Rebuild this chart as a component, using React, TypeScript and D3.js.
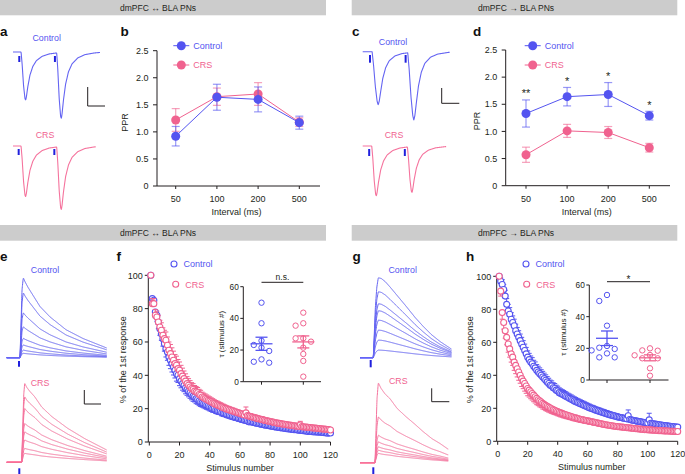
import React from "react";
import * as d3 from "d3";

const FONT = "'Liberation Sans', Arial, Helvetica, sans-serif";
const INK = "#231f20";
const C_CTRL = "#5454f0";
const C_CRS = "#f0628f";
const C_CTRL_TR = "#6464f2";
const C_CRS_TR = "#f5739d";
const C_STIM = "#2020dd";
const C_BAR = "#cccccc";

const headers = ["dmPFC \u2194 BLA PNs", "dmPFC \u2192 BLA PNs"];
const groupNames = ["Control", "CRS"];

// ---- PPR (b, d)
const intervals = ["50", "100", "200", "500"];
const pprTicks = [0, 0.5, 1, 1.5, 2, 2.5];
const pprCtrlB = [0.92, 1.64, 1.6, 1.17];
const pprCtrlBSem = [0.18, 0.24, 0.23, 0.12];
const pprCrsB = [1.22, 1.65, 1.7, 1.18];
const pprCrsBSem = [0.21, 0.16, 0.21, 0.08];
const pprCtrlD = [1.33, 1.64, 1.68, 1.29];
const pprCtrlDSem = [0.25, 0.17, 0.22, 0.08];
const pprCrsD = [0.57, 1.01, 0.98, 0.7];
const pprCrsDSem = [0.14, 0.12, 0.11, 0.08];
const starsD = ["**", "*", "*", "*"];

// ---- Train depression (f, h): % of the 1st response, stimulus 1..120
const decayXTicks = [0, 20, 40, 60, 80, 100, 120];
const decayYTicks = [0, 20, 40, 60, 80, 100];
const fCtrl = [
  100, 86, 85, 78, 76, 72, 68, 65, 62, 59,
  56, 54, 51, 49, 47, 45, 43, 41, 40, 38,
  36.5, 35, 34, 32.5, 31.5, 30.5, 29.5, 28.5, 27.5, 27,
  26, 25.5, 24.6, 24, 23.5, 23, 22.5, 22, 21.5, 21,
  20.5, 20, 19.8, 19.2, 18.8, 18.5, 18.3, 17.6, 17.2, 17,
  16.6, 16.2, 16, 15.6, 15.3, 15, 14.7, 14.6, 14.1, 13.9,
  13.6, 13.4, 13.1, 12.9, 12.6, 12.1, 12.2, 12, 11.7, 11.5,
  11.3, 11.1, 10.9, 10.7, 10.5, 10.3, 10.1, 10, 10.1, 9.6,
  9.5, 9.3, 9.1, 9, 8.8, 8.7, 8.5, 8.6, 8.3, 8.1,
  8, 7.9, 7.8, 7.6, 7.5, 7.4, 7.5, 7.2, 7.1, 7,
  6.9, 6.8, 6.7, 6.6, 6.3, 6.4, 6.3, 6.2, 6.1, 6.1,
  6, 5.9, 6, 5.8, 5.7, 5.6, 5.6, 5.3, 5.5, 5.4,
];
const fCtrlSem = [
  0, 3, 3, 3.5, 3.5, 4, 4, 4, 4.5, 4.5,
  5, 5, 5, 5, 5, 4.8, 4.6, 4.5, 4.3, 4.2,
  4, 3.9, 3.8, 3.6, 3.5, 3.4, 3.3, 3.2, 3.1, 3,
  3, 2.9, 2.8, 2.7, 2.6, 2.5, 2.5, 2.4, 2.3, 2.3,
  2.2, 2.2, 2.1, 2.1, 2, 2, 1.9, 1.9, 1.8, 1.8,
  1.8, 1.7, 1.7, 1.7, 1.6, 1.6, 1.6, 1.5, 1.5, 1.5,
  1.5, 1.4, 1.4, 1.4, 1.4, 1.3, 1.3, 1.3, 1.3, 1.3,
  1.2, 1.2, 1.2, 1.2, 1.2, 1.1, 1.1, 1.1, 1.1, 1.1,
  1, 1, 1, 1, 1, 1, 1, 1, 1, 1,
  0.9, 0.9, 0.9, 0.9, 0.9, 0.9, 0.9, 0.9, 0.9, 0.9,
  0.9, 0.9, 0.9, 0.9, 0.9, 0.9, 0.9, 0.9, 0.9, 0.9,
  0.8, 0.8, 0.8, 0.8, 0.8, 0.8, 0.8, 0.8, 0.8, 0.8,
];
const fCrs = [
  100, 83, 83, 76, 75, 72, 69, 67, 64, 62,
  61, 58, 55, 53, 51, 49, 47, 46, 44, 43,
  41, 39.5, 38, 36.5, 35, 34, 33, 32, 31.5, 30.5,
  30, 29.5, 28.5, 28, 27, 26.5, 26, 25.5, 25, 24.5,
  24, 23.5, 23, 22.5, 22.2, 21.8, 21.4, 21, 20.6, 20.2,
  19.8, 19.5, 19.2, 18.9, 18.6, 18.3, 18, 17.7, 17.4, 17.1,
  16.8, 16.5, 16.2, 17.5, 15.8, 15.5, 15.3, 15, 14.8, 14.5,
  14.3, 14, 13.8, 13.6, 13.4, 13.1, 12.9, 12.7, 12.5, 12.3,
  12.1, 11.9, 11.7, 11.5, 11.3, 11.2, 11, 10.8, 10.7, 10.5,
  10.4, 10.2, 10.1, 10, 9.8, 9.7, 9.6, 9.5, 9.4, 10.2,
  9.2, 9.1, 9, 8.9, 8.8, 8.7, 8.6, 8.5, 8.4, 8.3,
  8.2, 8.1, 8, 7.9, 7.8, 7.7, 7.6, 7.5, 7.4, 7.2,
];
const fCrsSem = [
  0, 3, 3, 3.5, 3.5, 4, 4, 4.5, 4.5, 5,
  5, 5, 5, 5.5, 5.5, 5.5, 5.5, 5.5, 5.5, 5,
  5, 4.8, 4.6, 4.4, 4.2, 4, 3.8, 3.6, 3.5, 3.4,
  3.3, 3.2, 3.1, 3, 2.9, 2.8, 2.8, 2.7, 2.6, 2.6,
  2.5, 2.5, 2.4, 2.4, 2.3, 2.3, 2.2, 2.2, 2.1, 2.1,
  2, 2, 2, 1.9, 1.9, 1.9, 1.8, 1.8, 1.8, 1.8,
  1.7, 1.7, 1.7, 3.5, 1.7, 1.6, 1.6, 1.6, 1.6, 1.6,
  1.5, 1.5, 1.5, 1.5, 1.5, 1.4, 1.4, 1.4, 1.4, 1.4,
  1.3, 1.3, 1.3, 1.3, 1.3, 1.3, 1.2, 1.2, 1.2, 1.2,
  1.2, 1.2, 1.1, 1.1, 1.1, 1.1, 1.1, 1.1, 1.1, 2.2,
  1, 1, 1, 1, 1, 1, 1, 1, 1, 1,
  0.9, 0.9, 0.9, 0.9, 0.9, 0.9, 0.9, 0.9, 0.9, 0.9,
];
const hCtrl = [
  100, 97, 95, 92, 88, 83, 79, 77, 74, 72,
  70, 67, 65, 63, 61, 59, 57, 55, 53, 51,
  49.5, 48, 47, 45.5, 44.5, 43, 42, 41, 40, 39,
  38, 37, 36, 35, 34, 33.5, 32.5, 32, 31, 30.5,
  29.5, 29, 28.5, 28, 27.5, 27, 26.5, 26, 25.5, 25,
  24.5, 24, 23.6, 23.2, 22.8, 22.4, 22, 21.6, 21.2, 20.8,
  20.4, 20, 19.7, 19.4, 19, 18.7, 18.4, 18.1, 17.8, 17.5,
  17.2, 16.9, 16.6, 16.3, 16, 15.8, 15.5, 15.3, 15, 14.8,
  14.6, 14.4, 14.2, 14, 13.8, 13.6, 15.5, 13.2, 13, 12.8,
  12.6, 12.4, 12.2, 12, 11.9, 11.7, 11.5, 11.4, 11.2, 11.1,
  13, 10.9, 10.7, 10.6, 10.4, 10.3, 10.1, 10, 9.9, 9.7,
  9.6, 9.5, 9.4, 9.2, 9.1, 9, 8.9, 8.8, 8.7, 8.6,
];
const hCtrlSem = [
  0, 2, 3, 3, 3.5, 3.5, 4, 4, 4, 4,
  4, 4, 4, 4, 4, 4, 4, 3.9, 3.9, 3.8,
  3.8, 3.7, 3.7, 3.6, 3.6, 3.5, 3.5, 3.5, 3.4, 3.4,
  3.3, 3.3, 3.2, 3.2, 3.1, 3.1, 3, 3, 3, 2.9,
  2.9, 2.8, 2.8, 2.8, 2.7, 2.7, 2.6, 2.6, 2.6, 2.5,
  2.5, 2.5, 2.4, 2.4, 2.4, 2.3, 2.3, 2.3, 2.2, 2.2,
  2.2, 2.1, 2.1, 2.1, 2, 2, 2, 2, 1.9, 1.9,
  1.9, 1.8, 1.8, 1.8, 1.8, 1.7, 1.7, 1.7, 1.7, 1.6,
  1.6, 1.6, 1.6, 1.5, 1.5, 1.5, 3.5, 1.5, 1.5, 1.4,
  1.4, 1.4, 1.4, 1.4, 1.3, 1.3, 1.3, 1.3, 1.3, 1.3,
  4, 1.3, 1.2, 1.2, 1.2, 1.2, 1.2, 1.2, 1.2, 1.1,
  1.1, 1.1, 1.1, 1.1, 1.1, 1.1, 1.1, 1.1, 1.1, 1.1,
];
const hCrs = [
  100, 91, 78, 72, 67, 63, 59, 56, 53, 51,
  48, 46, 44, 42, 40, 38, 36.5, 35, 33.5, 32,
  31, 30, 29, 28, 27, 26, 25.2, 24.5, 23.8, 23,
  22.4, 21.8, 21.2, 20.7, 20.2, 19.7, 19.2, 18.8, 18.4, 18,
  17.6, 17.2, 16.9, 16.5, 16.2, 15.9, 15.6, 15.3, 15, 14.7,
  14.4, 14.2, 13.9, 13.7, 13.4, 13.2, 13, 12.8, 12.6, 12.4,
  12.2, 12, 11.8, 11.6, 11.4, 11.2, 11, 10.8, 10.6, 10.4,
  10.2, 10, 9.9, 9.7, 9.6, 9.4, 9.3, 9.1, 9, 8.9,
  8.8, 8.7, 8.6, 8.5, 8.4, 8.3, 8.2, 8.1, 8, 7.9,
  7.8, 7.7, 7.6, 7.5, 7.4, 7.3, 7.2, 7.1, 7.1, 7,
  6.9, 6.9, 6.8, 6.7, 6.7, 6.6, 6.5, 6.5, 6.4, 6.4,
  6.3, 6.3, 6.2, 6.2, 6.1, 6.1, 6, 6, 5.9, 5.9,
];
const hCrsSem = [
  0, 3, 4, 4, 4.5, 4.5, 5, 5, 5, 5,
  5, 5, 5, 5, 4.8, 4.8, 4.6, 4.6, 4.4, 4.4,
  4.2, 4.2, 4, 4, 3.8, 3.8, 3.6, 3.6, 3.4, 3.4,
  3.2, 3.2, 3, 3, 2.9, 2.8, 2.7, 2.6, 2.5, 2.5,
  2.4, 2.4, 2.3, 2.3, 2.2, 2.2, 2.1, 2.1, 2, 2,
  2, 1.9, 1.9, 1.9, 1.8, 1.8, 1.8, 1.7, 1.7, 1.7,
  1.6, 1.6, 1.6, 1.6, 1.5, 1.5, 1.5, 1.5, 1.4, 1.4,
  1.4, 1.4, 1.3, 1.3, 1.3, 1.3, 1.2, 1.2, 1.2, 1.2,
  1.2, 1.1, 1.1, 1.1, 1.1, 1.1, 1, 1, 1, 1,
  1, 1, 1, 1, 0.9, 0.9, 0.9, 0.9, 0.9, 0.9,
  0.9, 0.9, 0.9, 0.9, 0.8, 0.8, 0.8, 0.8, 0.8, 0.8,
  0.8, 0.8, 0.8, 0.8, 0.8, 0.8, 0.8, 0.8, 0.8, 0.8,
];

// ---- tau insets (stimulus #)
const tauTicks = [0, 20, 40, 60];
const tauCtrlF = [49.9, 36.9, 25.9, 23.2, 21.5, 19.4, 14.1, 12.6, 12.0];
const tauCrsF = [43.6, 36.9, 35.4, 27.4, 27.4, 25.3, 21.5, 17.5, 13.1, 3.2];
const tauCtrlH = [53.7, 49.9, 34.3, 21.5, 20.4, 19.6, 18.7, 16.8, 14.3, 14.3];
const tauCrsH = [20.0, 18.7, 18.5, 15.8, 15.6, 13.7, 13.7, 7.4, 2.7];

// ---- example traces: normalized EPSC shapes [ms after onset/stim, fraction of peak]
const ppTplFast = [[0, 0], [2.5, 0], [4, 0.25], [6, 0.7], [8, 0.97], [9, 1], [10, 0.93], [12, 0.72], [15, 0.48], [19, 0.3], [24, 0.18], [32, 0.09], [42, 0.04], [55, 0.015], [70, 0]];
const ppTplSlow = [[0, 0], [3, 0], [5, 0.25], [7.5, 0.65], [10, 0.93], [11.5, 1], [13, 0.93], [15, 0.75], [18, 0.5], [22, 0.3], [27, 0.17], [35, 0.08], [45, 0.035], [60, 0.01], [75, 0]];
const ppAmpACtrl = [253, 347];
const ppAmpACrs = [267, 332];
const ppAmpCCtrl = [280, 358];
const ppAmpCCrs = [263, 242];
const ppStimA = [8.8, 58.8];
const ppStimC = [10.2, 60.2];

const trTplECtrl = [[0, 0], [2, 0.4], [4, 0.85], [6.6, 1], [10, 0.95], [16, 0.88], [26, 0.78], [40, 0.64], [60, 0.51], [92, 0.35], [126, 0.24], [174, 0.12]];
const trTplECrs = [[0, 0], [2, 0.4], [4, 0.85], [6, 1], [10, 0.95], [16, 0.9], [26, 0.83], [40, 0.7], [60, 0.58], [92, 0.43], [126, 0.3], [170, 0.156]];
const trTplGCtrl = [[0, 0], [2, 0.3], [4, 0.62], [7, 0.88], [10, 1], [16, 0.99], [24, 0.95], [34, 0.88], [50, 0.76], [66, 0.64], [84, 0.5], [100, 0.39], [116, 0.29], [134, 0.2], [157, 0.105]];
const trTplGCrs = [[0, 0], [2, 0.4], [4, 0.8], [6.6, 1], [12, 0.93], [20, 0.86], [30, 0.8], [44, 0.68], [62, 0.575], [80, 0.48], [96, 0.39], [114, 0.3], [130, 0.24], [146, 0.17]];
const trAmpECtrl = [400, 325, 225, 155, 97, 64, 38, 22];
const trAmpECrs = [395, 328, 270, 195, 153, 112, 70, 45];
const trAmpGCtrl = [400, 330, 270, 235, 188, 138, 88, 38];
const trAmpGCrs = [400, 230, 138, 105, 80, 63, 47];

function templateFn(tpl: number[][]) {
  const s = d3.scaleLinear().domain(tpl.map((d) => d[0])).range(tpl.map((d) => d[1])).clamp(true);
  return (t: number) => (t <= 0 ? 0 : s(t));
}

function PairedTrace({ tpl, stims, amps, tEnd, xs, ys, color }: any) {
  const f = templateFn(tpl);
  const pts = d3.range(0, tEnd + 0.001, 0.25).map((t) => [t, d3.sum(stims, (s: number, k: number) => amps[k] * f(t - s))]);
  const line = d3.line<number[]>().x((d) => xs(d[0])).y((d) => ys(d[1])).curve(d3.curveBasis);
  return <path d={line(pts) || ""} fill="none" stroke={color} strokeWidth={1.1} />;
}

function TrainTraces({ tpl, onset, amps, tEnd, xs, ys, color }: any) {
  const f = templateFn(tpl);
  const line = d3.line<number[]>().x((d) => xs(d[0])).y((d) => ys(d[1])).curve(d3.curveBasis);
  return (
    <g>
      {amps.map((a: number, i: number) => {
        const pts = d3.range(0, tEnd + 0.001, 0.5).map((t) => [t, a * f(t - onset)]);
        return <path key={i} d={line(pts) || ""} fill="none" stroke={color} strokeWidth={1} />;
      })}
    </g>
  );
}

function StimMark({ x, y1, y2 }: any) {
  return <line x1={x} x2={x} y1={y1} y2={y2} stroke={C_STIM} strokeWidth={2} />;
}

function ScaleBar({ x, y, w, h }: any) {
  return <path d={`M${x},${y - h}V${y}H${x + w}`} fill="none" stroke={INK} strokeWidth={1} />;
}

function PPRPanel({ axX, yTop, yBot, xEnd, catLo, catHi, ctrl, ctrlSem, crs, crsSem, stars, legX0, yLabelX, yLabelY }: any) {
  const y = d3.scaleLinear().domain([0, 2.5]).range([yBot, yTop]);
  const x = d3.scalePoint<string>().domain(intervals).range([catLo, catHi]);
  const line = d3.line<number>().x((d, i) => x(intervals[i]) as number).y((d) => y(d));
  const series = [
    { v: crs, s: crsSem, c: C_CRS },
    { v: ctrl, s: ctrlSem, c: C_CTRL },
  ];
  const legend = [
    { name: groupNames[0], c: C_CTRL, yy: 45.7 },
    { name: groupNames[1], c: C_CRS, yy: 65 },
  ];
  return (
    <g>
      <line x1={axX} x2={axX} y1={yTop} y2={yBot} stroke={INK} />
      <line x1={axX} x2={xEnd} y1={yBot} y2={yBot} stroke={INK} />
      {pprTicks.map((t) => (
        <g key={t}>
          <line x1={axX - 4} x2={axX} y1={y(t)} y2={y(t)} stroke={INK} />
          <text x={axX - 8.5} y={y(t) + 3.2} textAnchor="end" fontSize={9} fill={INK}>
            {t === 0 ? "0" : d3.format(".1f")(t)}
          </text>
        </g>
      ))}
      {intervals.map((c) => (
        <g key={c}>
          <line x1={x(c)} x2={x(c)} y1={yBot} y2={yBot + 3} stroke={INK} />
          <text x={x(c)} y={yBot + 16} textAnchor="middle" fontSize={9} fill={INK}>{c}</text>
        </g>
      ))}
      <text x={(catLo + catHi) / 2 - 1} y={yBot + 29} textAnchor="middle" fontSize={9} fill={INK}>Interval (ms)</text>
      <text transform={`translate(${yLabelX},${yLabelY}) rotate(-90)`} textAnchor="middle" fontSize={9} fill={INK}>PPR</text>
      {series.map((sr, si) => (
        <g key={si}>
          <path d={line(sr.v) || ""} fill="none" stroke={sr.c} strokeWidth={1} />
          {sr.v.map((v: number, i: number) => {
            const cx = x(intervals[i]) as number;
            const hi = y(v + sr.s[i]);
            const lo = y(v - sr.s[i]);
            return (
              <g key={i} stroke={sr.c} strokeOpacity={0.6} strokeWidth={1.2}>
                <line x1={cx} x2={cx} y1={hi} y2={lo} />
                <line x1={cx - 4} x2={cx + 4} y1={hi} y2={hi} />
                <line x1={cx - 4} x2={cx + 4} y1={lo} y2={lo} />
              </g>
            );
          })}
          {sr.v.map((v: number, i: number) => (
            <circle key={"c" + i} cx={x(intervals[i])} cy={y(v)} r={4.5} fill={sr.c} />
          ))}
        </g>
      ))}
      {stars &&
        stars.map((s: string, i: number) => (
          <text key={i} x={x(intervals[i])} y={y(ctrl[i] + ctrlSem[i]) - 2.5} textAnchor="middle" fontSize={11} fill={INK}>{s}</text>
        ))}
      {legend.map((l) => (
        <g key={l.name}>
          <line x1={legX0} x2={legX0 + 16} y1={l.yy} y2={l.yy} stroke={l.c} strokeWidth={1} />
          <circle cx={legX0 + 8} cy={l.yy} r={4.5} fill={l.c} />
          <text x={legX0 + 20} y={l.yy + 3.2} fontSize={9} fill={l.c}>{l.name}</text>
        </g>
      ))}
    </g>
  );
}

function DecayPanel({ axX, x0, x120, y0, y100, ctrl, ctrlSem, ctrlDir, crs, crsSem, crsDir, legX, yLabelX, titleX }: any) {
  const x = d3.scaleLinear().domain([0, 120]).range([x0, x120]);
  const y = d3.scaleLinear().domain([0, 100]).range([y0, y100]);
  const series = [
    { v: ctrl, s: ctrlSem, dir: ctrlDir, c: C_CTRL },
    { v: crs, s: crsSem, dir: crsDir, c: C_CRS },
  ];
  const legY = [264, 284.3];
  return (
    <g>
      <line x1={axX} x2={axX} y1={y(0)} y2={y(100)} stroke={INK} />
      <line x1={axX} x2={x(120)} y1={y0} y2={y0} stroke={INK} />
      {decayYTicks.map((t) => (
        <g key={t}>
          <line x1={axX - 3.5} x2={axX} y1={y(t)} y2={y(t)} stroke={INK} />
          <text x={axX - 5.5} y={y(t) + 3.2} textAnchor="end" fontSize={9} fill={INK}>{t}</text>
        </g>
      ))}
      {decayXTicks.map((t) => (
        <g key={t}>
          <line x1={x(t)} x2={x(t)} y1={y0} y2={y0 + 3.5} stroke={INK} />
          <text x={x(t)} y={y0 + 15.5} textAnchor="middle" fontSize={9} fill={INK}>{t}</text>
        </g>
      ))}
      <text x={titleX} y={y0 + 29} textAnchor="middle" fontSize={9} fill={INK}>Stimulus number</text>
      <text transform={`translate(${yLabelX},${(y0 + y100) / 2 + 1}) rotate(-90)`} textAnchor="middle" fontSize={9} fill={INK}>% of the 1st response</text>
      {series.map((sr, si) => (
        <g key={si}>
          {sr.v.map((v: number, i: number) => {
            if (!sr.s[i]) return null;
            const cx = x(i + 1);
            const ye = y(v + sr.dir * sr.s[i]);
            return (
              <g key={i} stroke={sr.c} strokeWidth={1}>
                <line x1={cx} x2={cx} y1={y(v)} y2={ye} />
                <line x1={cx - 2.5} x2={cx + 2.5} y1={ye} y2={ye} />
              </g>
            );
          })}
          {sr.v.map((v: number, i: number) => (
            <circle key={"c" + i} cx={x(i + 1)} cy={y(v)} r={3} fill="#fff" stroke={sr.c} strokeWidth={1.1} />
          ))}
        </g>
      ))}
      {[0, 1].map((g) => (
        <g key={g}>
          <circle cx={legX[g]} cy={legY[g]} r={3} fill="#fff" stroke={g ? C_CRS : C_CTRL} strokeWidth={1.1} />
          <text x={legX[g] + 9.5} y={legY[g] + 3.2} fontSize={9} fill={g ? C_CRS : C_CTRL}>{groupNames[g]}</text>
        </g>
      ))}
    </g>
  );
}

function swarm(vals: number[], cx: number, y: any, r: number, step: number) {
  const order = vals.map((v, i) => i).sort((a, b) => vals[b] - vals[a]);
  const placed: number[][] = [];
  const out: number[][] = new Array(vals.length);
  for (const i of order) {
    const py = y(vals[i]);
    for (const k of [0, -1, 1, -2, 2, -3, 3]) {
      const px = cx + k * step;
      if (placed.every((p) => (p[0] - px) ** 2 + (p[1] - py) ** 2 >= (2 * r + 0.8) ** 2)) {
        placed.push([px, py]);
        out[i] = [px, py];
        break;
      }
    }
  }
  return out;
}

function Inset({ axX, y0, y60, xEnd, gx, groups, sig, sigSize, sigDy, brY, yLabelX }: any) {
  const y = d3.scaleLinear().domain([0, 60]).range([y0, y60]);
  const colors = [C_CTRL, C_CRS];
  return (
    <g>
      <line x1={axX} x2={axX} y1={y0} y2={y60} stroke={INK} />
      <line x1={axX} x2={xEnd} y1={y0} y2={y0} stroke={INK} />
      {tauTicks.map((t) => (
        <g key={t}>
          <line x1={axX - 3} x2={axX} y1={y(t)} y2={y(t)} stroke={INK} />
          <text x={axX - 4.5} y={y(t) + 3} textAnchor="end" fontSize={8.3} fill={INK}>{t}</text>
        </g>
      ))}
      {gx.map((g: number) => (
        <line key={g} x1={g} x2={g} y1={y0} y2={y0 + 3} stroke={INK} />
      ))}
      <text transform={`translate(${yLabelX},${(y0 + y60) / 2}) rotate(-90)`} textAnchor="middle" fontSize={8} fill={INK}>{"\u03c4 (stimulus #)"}</text>
      <line x1={gx[0]} x2={gx[1]} y1={brY} y2={brY} stroke={INK} />
      <text x={(gx[0] + gx[1]) / 2} y={brY + sigDy} textAnchor="middle" fontSize={sigSize} fill={INK}>{sig}</text>
      {groups.map((vals: number[], gi: number) => {
        const cx = gx[gi];
        const m = d3.mean(vals) as number;
        const sem = (d3.deviation(vals) as number) / Math.sqrt(vals.length);
        const pts = swarm(vals, cx, y, 2.7, 7.7);
        const c = colors[gi];
        return (
          <g key={gi}>
            {pts.map((p, i) => (
              <circle key={i} cx={p[0]} cy={p[1]} r={2.7} fill="none" stroke={c} strokeWidth={1} />
            ))}
            <g stroke={c} strokeWidth={1.3}>
              <line x1={cx - 11} x2={cx + 11} y1={y(m)} y2={y(m)} />
              <line x1={cx} x2={cx} y1={y(m - sem)} y2={y(m + sem)} />
              <line x1={cx - 6} x2={cx + 6} y1={y(m - sem)} y2={y(m - sem)} />
              <line x1={cx - 6} x2={cx + 6} y1={y(m + sem)} y2={y(m + sem)} />
            </g>
          </g>
        );
      })}
    </g>
  );
}

function Header({ x0, x1, y0, y1, text, tx }: any) {
  return (
    <g>
      <rect x={x0} y={y0} width={x1 - x0} height={y1 - y0} fill={C_BAR} />
      <text x={tx} y={y0 + 11.3} textAnchor="middle" fontSize={8.5} fill={INK}>{text}</text>
    </g>
  );
}

export default function App() {
  const xsA = d3.scaleLinear().domain([0, 122]).range([13, 100]);
  const xsC = d3.scaleLinear().domain([0, 122]).range([362.7, 449.7]);
  const ysA1 = d3.scaleLinear().domain([0, 100]).range([52, 71]);
  const ysA2 = d3.scaleLinear().domain([0, 100]).range([146, 165]);
  const ysC1 = d3.scaleLinear().domain([0, 100]).range([51.7, 70.7]);
  const ysC2 = d3.scaleLinear().domain([0, 100]).range([146, 165]);
  const xsE = d3.scaleLinear().domain([0, 200]).range([6.7, 106.7]);
  const xsG = d3.scaleLinear().domain([0, 200]).range([360, 460]);
  const ysE1 = d3.scaleLinear().domain([0, 100]).range([357.7, 337.7]);
  const ysE2 = d3.scaleLinear().domain([0, 100]).range([462.3, 442.3]);
  const ysG1 = d3.scaleLinear().domain([0, 100]).range([357.7, 337.7]);
  const ysG2 = d3.scaleLinear().domain([0, 100]).range([462.7, 442.7]);

  const letters = [
    ["a", 0, 35.7], ["b", 120.5, 35.7], ["c", 352, 35.7], ["d", 473, 35.7],
    ["e", 0, 260.7], ["f", 116.5, 260.7], ["g", 352.5, 260.7], ["h", 466, 260.7],
  ];

  return (
    <svg width={685} height={474} style={{ position: "absolute", left: 0, top: 0, background: "#fff" }} fontFamily={FONT}>
      <rect x={0} y={0} width={685} height={474} fill="#fff" />
      <Header x0={0} x1={326} y0={0} y1={15.3} text={headers[0]} tx={158} />
      <Header x0={351.7} x1={677.3} y0={0} y1={15.3} text={headers[1]} tx={516} />
      <Header x0={0} x1={326} y0={225} y1={240.7} text={headers[0]} tx={158} />
      <Header x0={351.7} x1={677.3} y0={225} y1={240.7} text={headers[1]} tx={516} />

      {letters.map(([t, x, y]: any) => (
        <text key={t} x={x} y={y} fontSize={13.5} fontWeight="bold" fill="#111">{t}</text>
      ))}

      {/* a */}
      <text x={46.7} y={41.2} textAnchor="middle" fontSize={8.8} fill={C_CTRL}>{groupNames[0]}</text>
      <PairedTrace tpl={ppTplFast} stims={ppStimA} amps={ppAmpACtrl} tEnd={122} xs={xsA} ys={ysA1} color={C_CTRL_TR} />
      {ppStimA.map((s) => <StimMark key={s} x={xsA(s)} y1={56} y2={62} />)}
      <ScaleBar x={87.7} y={106} w={17.3} h={19} />
      <text x={45} y={138.2} textAnchor="middle" fontSize={8.8} fill={C_CRS}>{groupNames[1]}</text>
      <PairedTrace tpl={ppTplFast} stims={ppStimA} amps={ppAmpACrs} tEnd={116} xs={xsA} ys={ysA2} color={C_CRS_TR} />
      {ppStimA.map((s) => <StimMark key={s} x={xsA(s) - 0.6} y1={149} y2={155} />)}

      {/* b */}
      <PPRPanel axX={157} yTop={50.7} yBot={186} xEnd={320} catLo={175.7} catHi={299.3}
        ctrl={pprCtrlB} ctrlSem={pprCtrlBSem} crs={pprCrsB} crsSem={pprCrsBSem} legX0={173.3} yLabelX={128} yLabelY={122.5} />

      {/* c */}
      <text x={393} y={44.7} textAnchor="middle" fontSize={8.8} fill={C_CTRL}>{groupNames[0]}</text>
      <PairedTrace tpl={ppTplSlow} stims={ppStimC} amps={ppAmpCCtrl} tEnd={122} xs={xsC} ys={ysC1} color={C_CTRL_TR} />
      {ppStimC.map((s) => <StimMark key={s} x={xsC(s)} y1={55} y2={62.7} />)}
      <ScaleBar x={441.7} y={103.3} w={17.6} h={15.3} />
      <text x={394} y={138.2} textAnchor="middle" fontSize={8.8} fill={C_CRS}>{groupNames[1]}</text>
      <PairedTrace tpl={ppTplFast} stims={ppStimC} amps={ppAmpCCrs} tEnd={117} xs={xsC} ys={ysC2} color={C_CRS_TR} />
      {ppStimC.map((s) => <StimMark key={s} x={xsC(s) - 0.8} y1={149} y2={156} />)}

      {/* d */}
      <PPRPanel axX={505.7} yTop={50} yBot={185.7} xEnd={670} catLo={526} catHi={649.3}
        ctrl={pprCtrlD} ctrlSem={pprCtrlDSem} crs={pprCrsD} crsSem={pprCrsDSem} stars={starsD} legX0={524.7} yLabelX={479.8} yLabelY={121} />

      {/* e */}
      <text x={45} y={273} textAnchor="middle" fontSize={8.8} fill={C_CTRL}>{groupNames[0]}</text>
      <TrainTraces tpl={trTplECtrl} onset={26.6} amps={trAmpECtrl} tEnd={200} xs={xsE} ys={ysE1} color={C_CTRL_TR} />
      <StimMark x={19} y1={361} y2={366.7} />
      <text x={40} y={385.5} textAnchor="middle" fontSize={8.8} fill={C_CRS}>{groupNames[1]}</text>
      <TrainTraces tpl={trTplECrs} onset={30} amps={trAmpECrs} tEnd={200} xs={xsE} ys={ysE2} color={C_CRS_TR} />
      <StimMark x={19.3} y1={468.3} y2={474} />
      <ScaleBar x={84.3} y={404} w={16.7} h={14} />

      {/* f */}
      <DecayPanel axX={148.3} x0={149.3} x120={330.5} y0={442} y100={275.3}
        ctrl={fCtrl} ctrlSem={fCtrlSem} ctrlDir={-1} crs={fCrs} crsSem={fCrsSem} crsDir={1}
        legX={[174, 175.7]} yLabelX={125.5} titleX={240} />
      <Inset axX={243.3} y0={381.7} y60={286.7} xEnd={321} gx={[261.5, 303.3]} groups={[tauCtrlF, tauCrsF]}
        sig="n.s." sigSize={8.5} sigDy={-2.8} brY={282.3} yLabelX={224} />

      {/* g */}
      <text x={402.7} y={273} textAnchor="middle" fontSize={8.8} fill={C_CTRL}>{groupNames[0]}</text>
      <TrainTraces tpl={trTplGCtrl} onset={26.6} amps={trAmpGCtrl} tEnd={183.4} xs={xsG} ys={ysG1} color={C_CTRL_TR} />
      <StimMark x={370.7} y1={360} y2={367.3} />
      <text x={398.3} y={384.2} textAnchor="middle" fontSize={8.8} fill={C_CRS}>{groupNames[1]}</text>
      <TrainTraces tpl={trTplGCrs} onset={30} amps={trAmpGCrs} tEnd={176.6} xs={xsG} ys={ysG2} color={C_CRS_TR} />
      <StimMark x={373.3} y1={467.3} y2={474} />
      <ScaleBar x={431.7} y={401.7} w={17.6} h={13.4} />

      {/* h */}
      <DecayPanel axX={496.7} x0={497.7} x120={677.7} y0={441.3} y100={276.3}
        ctrl={hCtrl} ctrlSem={hCtrlSem} ctrlDir={1} crs={hCrs} crsSem={hCrsSem} crsDir={-1}
        legX={[526, 526.7]} yLabelX={472.5} titleX={591.7} />
      <Inset axX={589.3} y0={380} y60={285} xEnd={668.5} gx={[607, 650]} groups={[tauCtrlH, tauCrsH]}
        sig="*" sigSize={10} sigDy={0.8} brY={281.7} yLabelX={566} />
    </svg>
  );
}
